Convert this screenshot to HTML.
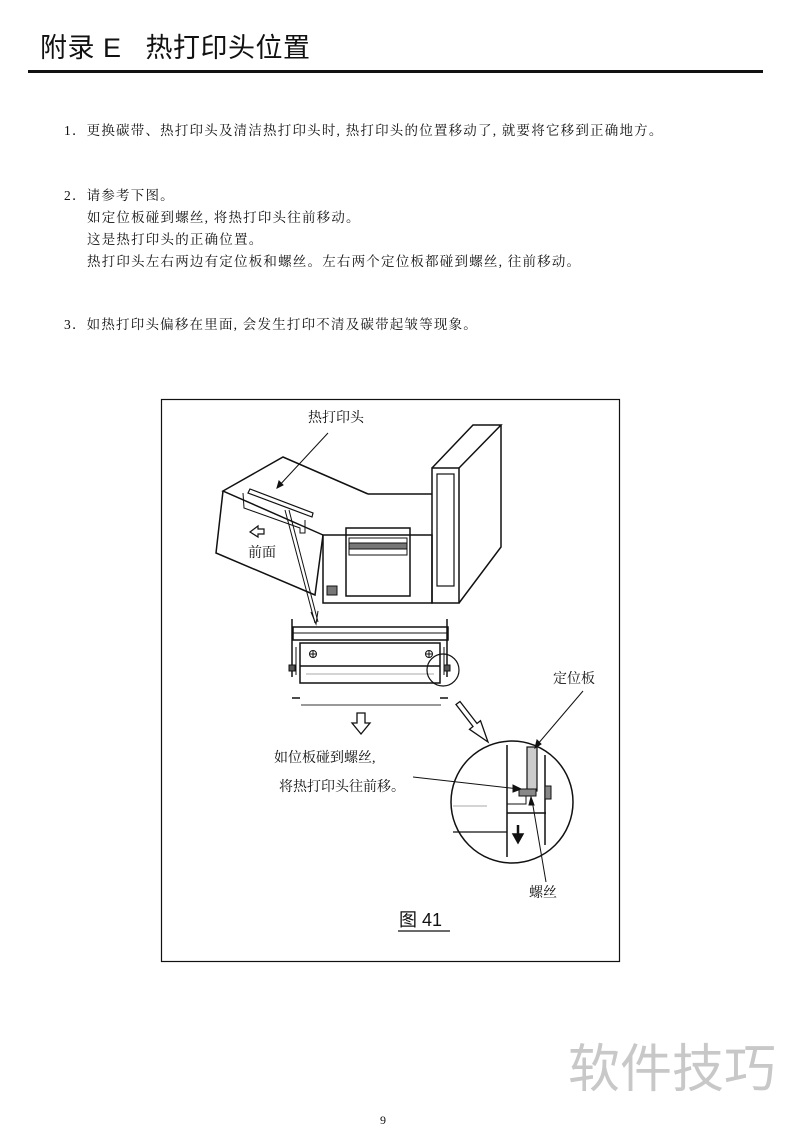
<!DOCTYPE html>
<html><head><meta charset="utf-8"><style>
html,body{margin:0;padding:0;background:#fff;}
body{width:800px;height:1132px;position:relative;overflow:hidden;font-family:"Liberation Serif","Noto Serif CJK SC",serif;color:#111;}
.t{position:absolute;white-space:nowrap;font-size:13px;line-height:16px;}
.b{font-size:13.5px;letter-spacing:1.2px;}
</style></head><body>
<div class="t" style="left:40px;top:32px;font-size:27px;line-height:32px;letter-spacing:0.5px;font-family:'Liberation Sans','Noto Sans CJK SC',sans-serif;">附录 E&nbsp;&nbsp;&nbsp;热打印头位置</div>
<div style="position:absolute;left:28px;top:70px;width:735px;height:3px;background:#111"></div>
<div class="t b" style="left:64px;top:123px">1．更换碳带、热打印头及清洁热打印头时, 热打印头的位置移动了, 就要将它移到正确地方。</div>
<div class="t b" style="left:64px;top:188px">2．请参考下图。</div>
<div class="t b" style="left:87px;top:210px">如定位板碰到螺丝, 将热打印头往前移动。</div>
<div class="t b" style="left:87px;top:232px">这是热打印头的正确位置。</div>
<div class="t b" style="left:87px;top:254px">热打印头左右两边有定位板和螺丝。左右两个定位板都碰到螺丝, 往前移动。</div>
<div class="t b" style="left:64px;top:317px">3．如热打印头偏移在里面, 会发生打印不清及碳带起皱等现象。</div>
<svg style="position:absolute;left:0;top:0" width="800" height="1132" viewBox="0 0 800 1132">
<g fill="none" stroke="#111" stroke-width="1.5">
<rect x="161.5" y="399.5" width="458" height="562" stroke-width="1.2"/>
<polyline points="323,535 223,491 283,457 368,494"/>
<polyline points="223,491 216,553 315,595 323,535"/>
<polygon points="250,489 313,513 312,517 248,493" stroke-width="1.2"/>
<polyline points="243,493 244,508 300,528 300,533 305,533 305,520" stroke-width="1"/>
<path d="M250,532 l8,-6 v3 h6 v5 h-6 v3 z" stroke-width="1.2"/>
<line x1="368" y1="494" x2="432" y2="494"/>
<rect x="323" y="535" width="109" height="68"/>
<rect x="346" y="528" width="64" height="68"/>
<rect x="349" y="538" width="58" height="17" stroke-width="1"/>
<rect x="349" y="543" width="58" height="6" fill="#777" stroke-width="1"/>
<rect x="327" y="586" width="10" height="9" fill="#777" stroke-width="1"/>
<rect x="432" y="468" width="27" height="135"/>
<polyline points="432,468 473,425 501,425 459,468"/>
<polyline points="501,425 501,547 459,603"/>
<rect x="437" y="474" width="17" height="112" stroke-width="1.2"/>
<line x1="328" y1="433" x2="277" y2="488" stroke-width="1"/>
<path d="M277,488 l2,-7 l4,4 z" fill="#111" stroke-width="1"/>
<line x1="285" y1="510" x2="315" y2="623" stroke-width="1"/>
<line x1="289" y1="510" x2="318" y2="622" stroke-width="1"/>
<path d="M311,612 l5,12 l2,-13" stroke-width="1"/>
<line x1="292" y1="619" x2="292" y2="677"/>
<line x1="447" y1="619" x2="447" y2="677"/>
<rect x="293" y="627" width="155" height="13"/>
<line x1="293" y1="633" x2="448" y2="633" stroke-width="1"/>
<rect x="300" y="643" width="140" height="40"/>
<line x1="300" y1="666" x2="440" y2="666"/>
<line x1="306" y1="674" x2="434" y2="674" stroke="#aaa" stroke-width="1"/>
<circle cx="313" cy="654" r="3.5" stroke-width="1"/><path d="M310,654h6M313,651v6" stroke-width="1"/>
<circle cx="429" cy="654" r="3.5" stroke-width="1"/><path d="M426,654h6M429,651v6" stroke-width="1"/>
<rect x="289" y="665" width="6" height="6" fill="#555" stroke-width="1"/>
<rect x="444" y="665" width="6" height="6" fill="#555" stroke-width="1"/>
<line x1="296" y1="647" x2="296" y2="675" stroke-width="1"/>
<line x1="444" y1="647" x2="444" y2="675" stroke-width="1"/>
<circle cx="443" cy="670" r="16" stroke-width="1.2"/>
<line x1="292" y1="698" x2="300" y2="698"/>
<line x1="440" y1="698" x2="448" y2="698"/>
<line x1="301" y1="705" x2="441" y2="705" stroke="#999" stroke-width="2"/>
<path d="M357,713 h8 v10 h5 l-9,11 l-9,-11 h5 z" stroke-width="1.3"/>
<polygon points="460,701.5 477,723.5 480.5,720.7 488,742 469.5,729.3 473,726.5 456,704.5" stroke-width="1.3"/>
<circle cx="512" cy="802" r="61"/>
<line x1="507" y1="745" x2="507" y2="857"/>
<line x1="545" y1="755" x2="545" y2="845"/>
<rect x="527" y="747" width="10" height="44" fill="#ccc" stroke-width="1.2"/>
<line x1="537" y1="748" x2="537" y2="791" stroke-width="1"/>
<rect x="519" y="789" width="17" height="7" fill="#888" stroke-width="1"/>
<rect x="545" y="786" width="6" height="13" fill="#888" stroke-width="1"/>
<polyline points="507,804 526,804 526,796" stroke-width="1"/>
<line x1="507" y1="813" x2="546" y2="813"/>
<line x1="453" y1="832" x2="507" y2="832" stroke-width="1.2"/>
<line x1="453" y1="806" x2="487" y2="806" stroke="#aaa" stroke-width="1"/>
<path d="M518,825 v14" stroke-width="2.5"/>
<path d="M513,834 l5,9 l5,-9 z" fill="#111"/>
<line x1="583" y1="691" x2="537" y2="745" stroke-width="1"/>
<path d="M535,748 l2,-8 l4,4 z" fill="#111" stroke-width="1"/>
<line x1="413" y1="777" x2="519" y2="789" stroke-width="1"/>
<path d="M521,789 l-8,-4 l0,7 z" fill="#111" stroke-width="1"/>
<line x1="546" y1="882" x2="532" y2="800" stroke-width="1"/>
<path d="M531,797 l-2,8 l5,0 z" fill="#111" stroke-width="1"/>
<line x1="398" y1="931" x2="450" y2="931" stroke-width="1.2"/>
</g>
</svg>
<div class="t" style="left:308px;top:411px;font-size:14px">热打印头</div>
<div class="t" style="left:248px;top:546px;font-size:14px">前面</div>
<div class="t" style="left:553px;top:672px;font-size:14px">定位板</div>
<div class="t" style="left:274px;top:751px;font-size:14px">如位板碰到螺丝,</div>
<div class="t" style="left:279px;top:780px;font-size:14px">将热打印头往前移。</div>
<div class="t" style="left:529px;top:886px;font-size:14px">螺丝</div>
<div class="t" style="left:399px;top:910px;font-size:18px;line-height:20px;font-family:'Liberation Sans','Noto Sans CJK SC',sans-serif">图 41</div>
<div class="t" style="left:568px;top:1040px;font-size:52px;line-height:60px;color:#c8c8c8;font-family:'Liberation Sans','Noto Sans CJK SC',sans-serif">软件技巧</div>
<div class="t" style="left:380px;top:1112px;font-size:12px">9</div>
</body></html>
